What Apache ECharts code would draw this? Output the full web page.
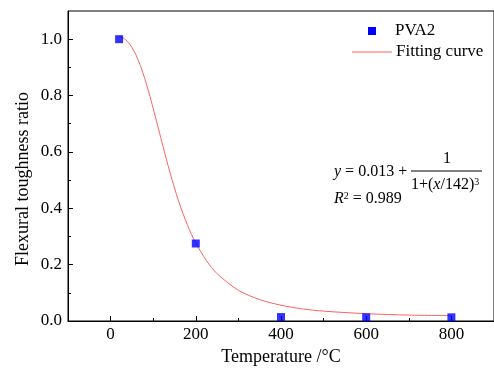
<!DOCTYPE html>
<html>
<head>
<meta charset="utf-8">
<script src="https://cdn.jsdelivr.net/npm/echarts@6/dist/echarts.min.js"></script>
<style>
  html, body { margin: 0; padding: 0; background: #fff; }
  #chart { width: 494px; height: 374px; }
</style>
</head>
<body>
<div id="chart"></div>
<script>
// measured points (PVA2)
const tempPoints = [20, 200, 400, 600, 800];
const ratioPoints = [1.0, 0.275, 0.014, 0.013, 0.013];

// fitting curve
const curveX = [20, 30, 40, 50, 60, 70, 80, 90, 100, 110, 120, 130, 140, 150, 160, 170, 180, 190, 200,
    225, 250, 300, 350, 400, 450, 500, 600, 700, 800];
const curveY = [1.01, 1.004, 0.991, 0.971, 0.943, 0.906, 0.861, 0.81, 0.754, 0.696, 0.637, 0.579, 0.524, 0.472, 0.424, 0.381, 0.342, 0.307, 0.277,
    0.214, 0.168, 0.109, 0.076, 0.056, 0.043, 0.035, 0.026, 0.021, 0.019];

const xMajor = [0, 200, 400, 600, 800];
const xMinor = [100, 300, 500, 700];
const yMajor = [0, 0.2, 0.4, 0.6, 0.8, 1.0];
const yMinor = [0.1, 0.3, 0.5, 0.7, 0.9];

const FONT = '"Liberation Serif", "Times New Roman", serif';

var chart = echarts.init(document.getElementById('chart'));

const scatterData = tempPoints.map((t, i) => [t, ratioPoints[i]]);
const curveData = curveX.map((t, i) => [t, curveY[i]]);

var option = {
    animation: false,
    grid: {
        left: 68, top: 11, right: -11, bottom: 53,
        show: true, borderColor: '#000', borderWidth: 1
    },
    xAxis: [{
        type: 'value', min: -100, max: 900, position: 'bottom',
        axisLine: { show: true, onZero: false, lineStyle: { color: '#000', width: 1 } },
        splitLine: { show: false },
        axisTick: { show: true, inside: true, length: 5, customValues: xMajor, lineStyle: { color: '#000' } },
        axisLabel: { customValues: xMajor, color: '#000', fontFamily: FONT, fontSize: 17, margin: 5 },
        name: 'Temperature /°C', nameLocation: 'middle', nameGap: 23,
        nameTextStyle: { color: '#000', fontFamily: FONT, fontSize: 18 }
    }, {
        type: 'value', min: -100, max: 900, position: 'bottom',
        axisLine: { show: false, onZero: false },
        splitLine: { show: false },
        axisTick: { show: true, inside: true, length: 3, customValues: xMinor, lineStyle: { color: '#000' } },
        axisLabel: { show: false }
    }],
    yAxis: [{
        type: 'value', min: 0, max: 1.1, position: 'left',
        axisLine: { show: true, onZero: false, lineStyle: { color: '#000', width: 1 } },
        splitLine: { show: false },
        axisTick: { show: true, inside: true, length: 5, customValues: yMajor, lineStyle: { color: '#000' } },
        axisLabel: {
            customValues: yMajor, color: '#000', fontFamily: FONT, fontSize: 17, margin: 6,
            formatter: v => v.toFixed(1)
        }
    }, {
        type: 'value', min: 0, max: 1.1, position: 'left',
        axisLine: { show: false, onZero: false },
        splitLine: { show: false },
        axisTick: { show: true, inside: true, length: 3, customValues: yMinor, lineStyle: { color: '#000' } },
        axisLabel: { show: false }
    }],
    series: [{
        name: 'Fitting curve',
        type: 'line',
        data: curveData,
        smooth: 0.3,
        showSymbol: false,
        lineStyle: { color: '#ff6060', width: 1 },
        z: 2
    }, {
        name: 'PVA2',
        type: 'scatter',
        data: scatterData,
        symbol: 'rect',
        symbolSize: 8,
        itemStyle: { color: '#0000ff' },
        z: 3
    }],
    graphic: [
        // y axis title
        {
            type: 'text', x: 23, y: 179, rotation: Math.PI / 2,
            style: { text: 'Flexural toughness ratio', fill: '#000', font: '18px ' + FONT, align: 'center', verticalAlign: 'middle' }
        },
        // legend
        { type: 'rect', shape: { x: 368, y: 27, width: 8, height: 8 }, style: { fill: '#0000ff' } },
        { type: 'text', x: 395, y: 31, style: { text: 'PVA2', fill: '#000', font: '17px ' + FONT, verticalAlign: 'middle' } },
        { type: 'line', shape: { x1: 352, y1: 52, x2: 392, y2: 52 }, style: { stroke: '#ff6060', lineWidth: 1 } },
        { type: 'text', x: 396, y: 52, style: { text: 'Fitting curve', fill: '#000', font: '17px ' + FONT, verticalAlign: 'middle' } },
        // equation
        {
            type: 'text', x: 334, y: 172,
            style: {
                text: '{i|y} = 0.013 +', fill: '#000', font: '16px ' + FONT, verticalAlign: 'middle',
                rich: { i: { fontStyle: 'italic', fontFamily: FONT, fontSize: 16 } }
            }
        },
        { type: 'line', shape: { x1: 411, y1: 171, x2: 482, y2: 171 }, style: { stroke: '#000', lineWidth: 1 } },
        { type: 'text', x: 447, y: 159, style: { text: '1', fill: '#000', font: '16px ' + FONT, align: 'center', verticalAlign: 'middle' } },
        {
            type: 'text', x: 411, y: 185,
            style: {
                text: '1+({i|x}/142){s|3}', fill: '#000', font: '16px ' + FONT, verticalAlign: 'middle',
                rich: {
                    i: { fontStyle: 'italic', fontFamily: FONT, fontSize: 16 },
                    s: { fontFamily: FONT, fontSize: 10, verticalAlign: 'top' }
                }
            }
        },
        {
            type: 'text', x: 334, y: 199,
            style: {
                text: '{i|R}{s|2} = 0.989', fill: '#000', font: '16px ' + FONT, verticalAlign: 'middle',
                rich: {
                    i: { fontStyle: 'italic', fontFamily: FONT, fontSize: 16 },
                    s: { fontFamily: FONT, fontSize: 10, verticalAlign: 'top' }
                }
            }
        }
    ]
};

chart.setOption(option);
</script>
</body>
</html>
